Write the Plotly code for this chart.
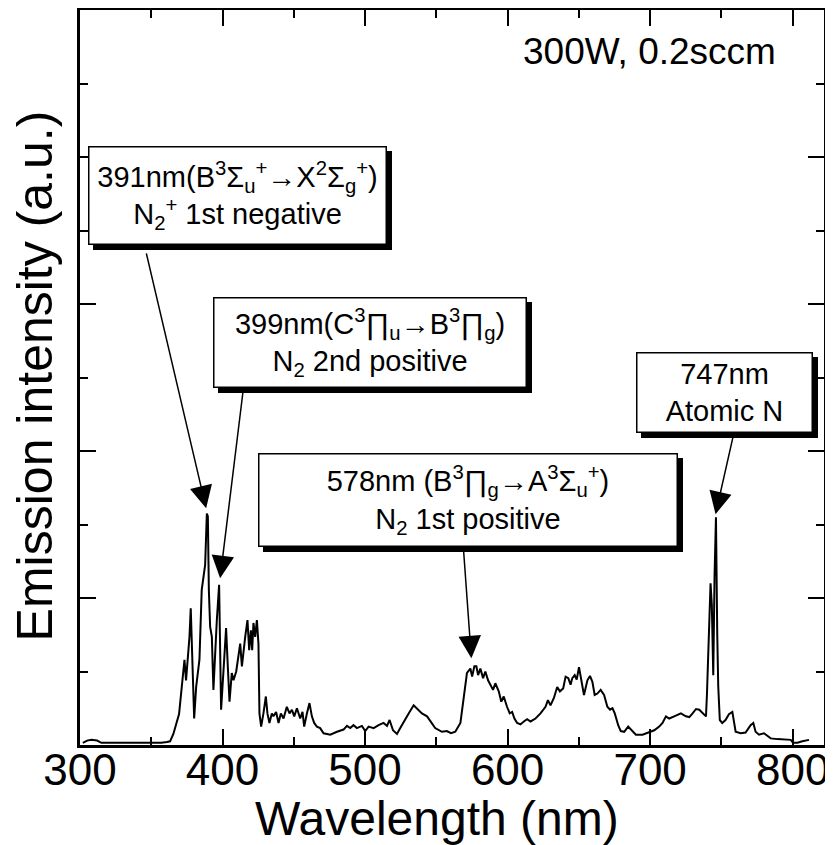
import plotly.graph_objects as go

# Spectrum (wavelength in nm, intensity in arbitrary units)
wavelength = [302, 305, 308, 312, 315, 320, 330, 340, 350, 357, 361, 363.2, 365.5, 367.9, 369.5,
              371.4, 373.3, 374.4, 375.4, 376.8, 377.7, 378.7, 380.1, 381.5, 383.8, 385.4, 386.6,
              387.8, 389.0, 389.7, 390.4, 391.3, 392.5, 393.6, 396.0, 397.6, 399.0, 400.7, 402.5,
              403.7, 404.9, 406.5, 407.7, 409.6, 411.2, 412.4, 413.6, 414.7, 415.9, 417.5, 418.7,
              419.9, 420.8, 421.7, 422.9, 424.1, 425.2, 425.9, 427.1, 428.7, 430.4, 431.5, 432.9,
              434.6, 435.7, 437.6, 439.3, 440.9, 442.8, 445.1, 447.0, 448.7, 450.3, 452.2, 454.5,
              456.1, 457.3, 459.2, 461.0, 462.7, 464.3, 466.2, 468.5, 470.9, 475.6, 480.3, 484.9,
              487.3, 489.6, 491.9, 494.3, 497.8, 500.1, 502.5, 506.0, 509.5, 513.0, 515.4, 517.2,
              519.6, 522.4, 524.7, 527.5, 530.6, 534.1, 536.4, 539.9, 543.5, 549.2, 553.9, 557.4,
              560.3, 563.3, 566.9, 569.2, 571.5, 573.9, 575.1, 576.7, 578.1, 579.3, 580.9, 582.8,
              584.4, 586.3, 587.9, 589.8, 591.4, 593.8, 595.6, 597.3, 599.6, 601.5, 603.2, 604.8,
              606.7, 609.0, 611.4, 613.7, 616.1, 619.6, 623.1, 626.6, 628.3, 630.1, 632.5, 634.8,
              636.7, 639.0, 640.7, 642.6, 644.2, 645.4, 647.1, 648.5, 650.1, 652.0, 653.6, 656.0,
              657.8, 659.5, 661.1, 663.0, 665.3, 667.7, 670.0, 671.9, 673.6, 675.2, 677.6, 679.4,
              681.8, 684.6, 686.9, 690.0, 694.7, 699.4, 702.9, 706.4, 708.7, 711.1, 713.4, 716.9,
              721.6, 725.1, 727.5, 729.8, 732.2, 734.5, 736.8, 739.2, 739.9, 741.2, 742.4, 743.3,
              744.3, 745.2, 746.2, 747.1, 747.8, 748.9, 750.6, 752.9, 755.3, 757.7, 760.0, 763.5,
              767.0, 770.5, 772.4, 774.0, 776.4, 779.9, 784.6, 789.3, 794.0, 798.7, 800.3, 803.4,
              806.8, 811.5]
intensity = [0.03, 0.06, 0.07, 0.06, 0.03, 0.03, 0.02, 0.03, 0.02, 0.03, 0.04, 0.05, 0.15, 0.30, 0.42,
             0.79, 1.16, 0.88, 1.09, 1.47, 1.86, 1.34, 0.36, 0.79, 1.16, 2.11, 2.29,
             2.45, 3.15, 3.11, 2.11, 1.61, 1.47, 0.75, 1.70, 2.18, 0.48, 1.07, 1.59,
             1.07, 0.59, 0.98, 0.88, 1.00, 1.20, 1.38, 1.07, 1.29, 1.47, 1.70, 1.29,
             1.56, 1.29, 1.66, 1.47, 1.70, 1.38, 0.43, 0.25, 0.43, 0.66, 0.43, 0.30,
             0.43, 0.39, 0.45, 0.30, 0.43, 0.36, 0.52, 0.43, 0.48, 0.39, 0.50, 0.36,
             0.45, 0.25, 0.43, 0.57, 0.39, 0.30, 0.25, 0.23, 0.16, 0.14, 0.18, 0.21,
             0.26, 0.23, 0.27, 0.23, 0.26, 0.19, 0.25, 0.23, 0.27, 0.30, 0.26, 0.34,
             0.20, 0.15, 0.23, 0.33, 0.43, 0.54, 0.50, 0.43, 0.39, 0.23, 0.18, 0.19,
             0.16, 0.18, 0.30, 0.61, 0.98, 1.04, 0.93, 1.07, 1.07, 0.95, 1.04, 0.91,
             1.00, 0.88, 0.82, 0.75, 0.84, 0.73, 0.59, 0.66, 0.52, 0.43, 0.45, 0.36,
             0.30, 0.28, 0.32, 0.35, 0.32, 0.36, 0.43, 0.52, 0.61, 0.54, 0.64, 0.79,
             0.73, 0.77, 0.93, 0.91, 0.82, 0.91, 0.95, 0.89, 1.06, 0.84, 0.68, 0.88,
             0.94, 0.86, 0.68, 0.70, 0.75, 0.68, 0.52, 0.48, 0.50, 0.43, 0.27, 0.19,
             0.18, 0.25, 0.20, 0.14, 0.14, 0.17, 0.20, 0.25, 0.30, 0.39, 0.36, 0.39,
             0.43, 0.39, 0.38, 0.43, 0.49, 0.48, 0.43, 0.39, 0.70, 1.38, 2.20, 1.90,
             0.95, 2.30, 3.10, 1.50, 0.80, 0.34, 0.30, 0.34, 0.42, 0.45, 0.18, 0.16,
             0.17, 0.27, 0.30, 0.18, 0.14, 0.16, 0.09, 0.08, 0.08, 0.07, 0.03, 0.03,
             0.05, 0.07]

x_ticks = [300, 400, 500, 600, 700, 800]
x_tick_labels = ["300", "400", "500", "600", "700", "800"]

FONT = "Liberation Sans, Arial, Helvetica, sans-serif"

fig = go.Figure()
fig.add_trace(go.Scatter(x=wavelength, y=intensity, mode="lines",
                         line=dict(color="black", width=2), showlegend=False,
                         hoverinfo="skip"))

# Label boxes: (text, x, y, width, height)
boxes = [
    ("391nm(B<sup>3</sup>Σ<sub>u</sub><sup>+</sup>→X<sup>2</sup>Σ<sub>g</sub><sup>+</sup>)<br>N<sub>2</sub><sup>+</sup> 1st negative",
     410.6, 7.48, 296, 96),
    ("399nm(C<sup>3</sup>∏<sub>u</sub>→B<sup>3</sup>∏<sub>g</sub>)<br>N<sub>2</sub> 2nd positive",
     503.7, 5.48, 311, 88),
    ("578nm (B<sup>3</sup>∏<sub>g</sub>→A<sup>3</sup>Σ<sub>u</sub><sup>+</sup>)<br>N<sub>2</sub> 1st positive",
     572.5, 3.33, 417, 91),
    ("747nm<br>Atomic N", 751.9, 4.80, 174, 78),
]

annotations = []
for text, bx, by, bw, bh in boxes:
    # drop shadow
    annotations.append(dict(x=bx, y=by, xref="x", yref="y", text=text, showarrow=False,
                            width=bw, height=bh, borderpad=0, xshift=5, yshift=-5,
                            bgcolor="black", bordercolor="black", borderwidth=1.5,
                            font=dict(family=FONT, size=29, color="black")))
    annotations.append(dict(x=bx, y=by, xref="x", yref="y", text=text, showarrow=False,
                            width=bw, height=bh, borderpad=0, align="center",
                            bgcolor="white", bordercolor="black", borderwidth=1.5,
                            font=dict(family=FONT, size=29, color="black")))

# Arrows: (tail x, tail y, head x, head y)
arrows = [
    (346.3, 6.71, 388.5, 3.22),
    (414.5, 4.83, 398.3, 2.27),
    (569.0, 2.68, 574.6, 1.18),
    (758.6, 4.23, 745.9, 3.14),
]
for tx, ty, hx, hy in arrows:
    annotations.append(dict(x=hx, y=hy, ax=tx, ay=ty, xref="x", yref="y", axref="x", ayref="y",
                            text="", showarrow=True, arrowhead=2, arrowsize=3,
                            arrowwidth=1.5, arrowcolor="black", standoff=0, startstandoff=0))

annotations.append(dict(x=0.766, y=0.944, xref="paper", yref="paper",
                        text="300W, 0.2sccm", showarrow=False,
                        xanchor="center", yanchor="middle",
                        font=dict(family=FONT, size=37, color="black")))

# Axis titles
annotations.append(dict(x=0.48, y=-0.1, xref="paper", yref="paper",
                        text="Wavelength (nm)", showarrow=False,
                        xanchor="center", yanchor="middle",
                        font=dict(family=FONT, size=48, color="black")))
annotations.append(dict(x=-0.06, y=0.502, xref="paper", yref="paper",
                        text="Emission intensity (a.u.)", showarrow=False, textangle=-90,
                        xanchor="center", yanchor="middle",
                        font=dict(family=FONT, size=50, color="black")))

fig.update_layout(
    width=825, height=837,
    margin=dict(l=72, r=9, t=2, b=100, autoexpand=False),
    paper_bgcolor="white", plot_bgcolor="white",
    font=dict(family=FONT, color="black"),
    annotations=annotations,
    xaxis=dict(range=[300, 822], tickvals=x_ticks, ticktext=x_tick_labels,
               ticks="inside", ticklen=16, tickwidth=2, tickcolor="black",
               minor=dict(dtick=50, tick0=300, ticks="inside", ticklen=8, tickwidth=2,
                          tickcolor="black", showgrid=False),
               showline=True, linewidth=2.5, linecolor="black", mirror="ticks",
               showgrid=False, zeroline=False, automargin=False,
               ticklabelstandoff=-16,
               tickfont=dict(family=FONT, size=44, color="black")),
    yaxis=dict(range=[0, 10], dtick=2, tick0=0, showticklabels=False,
               ticks="inside", ticklen=16, tickwidth=2, tickcolor="black",
               minor=dict(dtick=1, tick0=0, ticks="inside", ticklen=8, tickwidth=2,
                          tickcolor="black", showgrid=False),
               showline=True, linewidth=2.5, linecolor="black", mirror="ticks",
               showgrid=False, zeroline=False, automargin=False),
)

fig.write_html("out.html")
